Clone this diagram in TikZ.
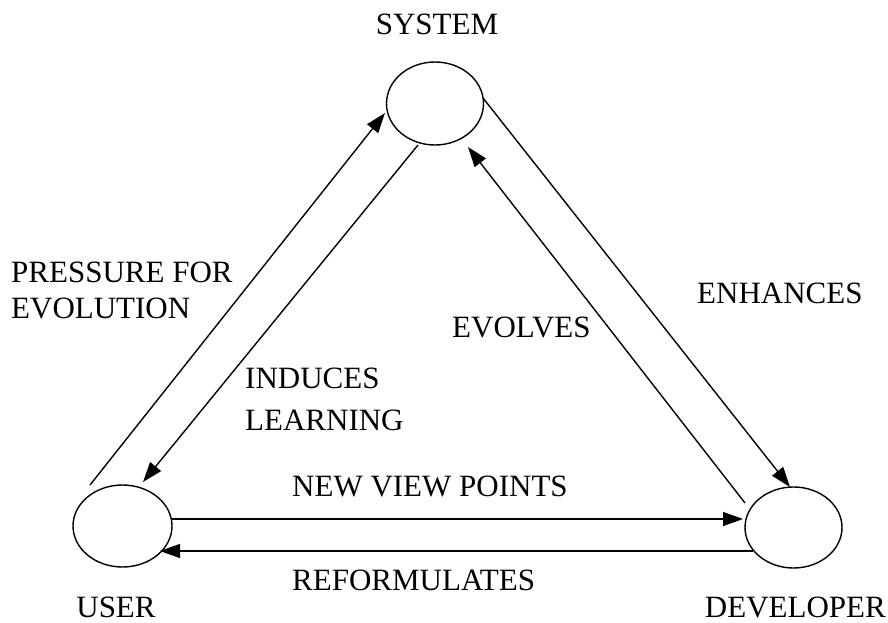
\documentclass[tikz,border=0pt]{standalone}
\usepackage{fontspec}
\setmainfont{Liberation Serif}
\usetikzlibrary{shapes.geometric,arrows.meta}
\begin{document}
\begin{tikzpicture}[x=1pt,y=-1pt,
  blob/.style={draw,ellipse,line width=1.4pt,inner sep=0pt},
  lbl/.style={font=\fontsize{31}{38}\selectfont,inner sep=0pt,align=left},
  conn/.style={line width=1.4pt,-{Triangle[length=20pt,width=14pt]}}]
\useasboundingbox (0,0) rectangle (888,623);
\node[blob,minimum width=97pt,minimum height=83pt] (sys) at (435,103.5) {};
\node[blob,minimum width=99pt,minimum height=82pt] (usr) at (122.5,526) {};
\node[blob,minimum width=97pt,minimum height=81pt] (dev) at (793.5,527.5) {};
% connector ends
\coordinate (p1) at (90,485);   \coordinate (p2) at (385,113);
\coordinate (i1) at (418,145);  \coordinate (i2) at (143,482);
\coordinate (e1) at (483,98);   \coordinate (e2) at (790,487);
\coordinate (v1) at (745,503);  \coordinate (v2) at (468,147);
\coordinate (n1) at (172,519);  \coordinate (n2) at (743,519);
\coordinate (r1) at (753,551);  \coordinate (r2) at (160,551);
\draw[conn] (p1) -- (p2);
\draw[conn] (i1) -- (i2);
\draw[conn] (e1) -- (e2);
\draw[conn] (v1) -- (v2);
\draw[conn] (n1) -- (n2);
\draw[conn] (r1) -- (r2);
% labels
\node[lbl,anchor=base] (tsys) at (437,35) {SYSTEM};
\node[lbl,anchor=base] (tusr) at (116,617) {USER};
\node[lbl,anchor=base east] (tdev) at (886,617) {DEVELOPER};
\node[lbl,anchor=base west] (tpr1) at (11,282) {PRESSURE FOR};
\node[lbl,anchor=base west] (tpr2) at (11,318) {EVOLUTION};
\node[lbl,anchor=base west] (tin1) at (245,388) {INDUCES};
\node[lbl,anchor=base west] (tin2) at (245,430) {LEARNING};
\node[lbl,anchor=base west] (tevo) at (452,337) {EVOLVES};
\node[lbl,anchor=base west] (tenh) at (697,303) {ENHANCES};
\node[lbl,anchor=base west] (tnew) at (292,496) {NEW VIEW POINTS};
\node[lbl,anchor=base west] (tref) at (292,590) {REFORMULATES};
\end{tikzpicture}
\end{document}
